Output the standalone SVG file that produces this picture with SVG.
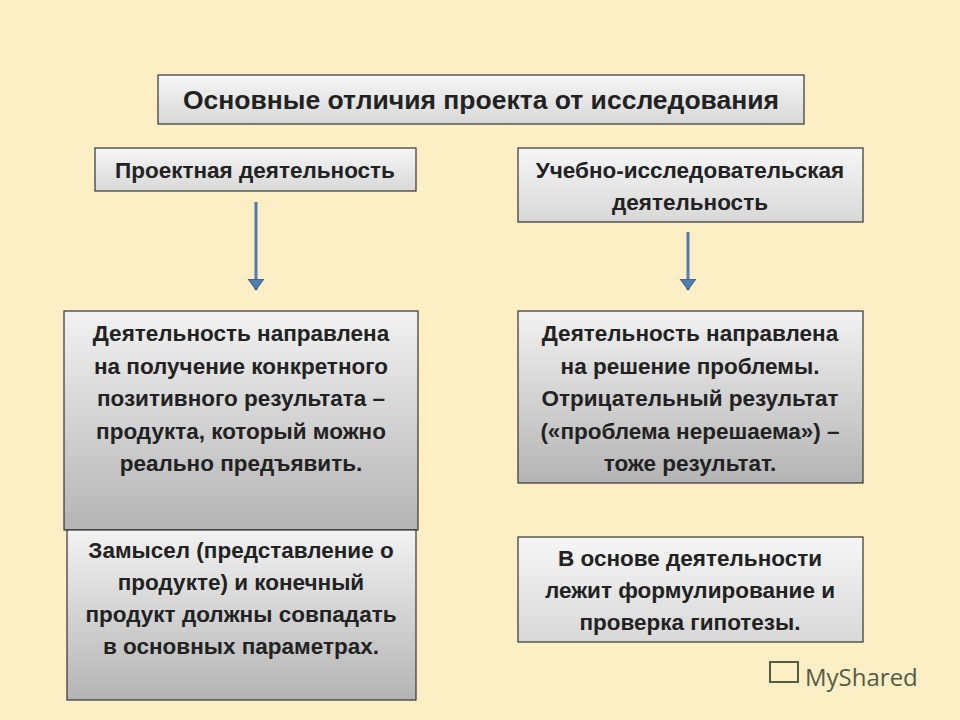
<svg xmlns="http://www.w3.org/2000/svg" width="960" height="720" viewBox="0 0 960 720">
<defs>
<linearGradient id="g" x1="0" y1="0" x2="0" y2="1"><stop offset="0" stop-color="#f2f2f2"/><stop offset="1" stop-color="#b4b4b4"/></linearGradient>
<linearGradient id="g2" x1="0" y1="0" x2="0" y2="1"><stop offset="0" stop-color="#f6f6f6"/><stop offset="1" stop-color="#d8d8d8"/></linearGradient>
<marker id="ah" markerWidth="18" markerHeight="18" refX="11" refY="8" orient="auto" markerUnits="userSpaceOnUse"><path d="M0,0 L11,8 L0,16 Z" fill="#4f7bb0" stroke="#2f5070" stroke-width="0.8"/></marker>
<style>
.b{stroke:#333;stroke-width:1.2}
.t{font-family:"Liberation Sans",Arial,sans-serif;font-weight:bold;font-size:22.5px;fill:#222;text-anchor:middle}
</style>
</defs>
<rect width="960" height="720" fill="#fcefc6"/>
<g id="title"><rect class="b" x="158" y="75" width="646" height="49" fill="url(#g2)"/><text class="t" x="481" y="109" style="font-size:26.5px">Основные отличия проекта от исследования</text></g>
<g id="h1"><rect class="b" x="95" y="148" width="321" height="43" fill="url(#g2)"/><text class="t" x="255" y="178">Проектная деятельность</text></g>
<g id="h2"><rect class="b" x="518" y="148" width="345" height="74" fill="url(#g2)"/><text class="t" x="690" y="178">Учебно-исследовательская</text><text class="t" x="690" y="210">деятельность</text></g>
<g id="l1"><rect class="b" x="64" y="311" width="354" height="219" fill="url(#g)"/>
<text class="t" x="241" y="341">Деятельность направлена</text><text class="t" x="241" y="374">на получение конкретного</text><text class="t" x="241" y="406">позитивного результата –</text><text class="t" x="241" y="439">продукта, который можно</text><text class="t" x="241" y="471">реально  предъявить.</text></g>
<g id="l2"><rect class="b" x="67" y="530" width="349" height="170" fill="url(#g)"/>
<text class="t" x="241" y="558">Замысел (представление о</text><text class="t" x="241" y="590">продукте) и конечный</text><text class="t" x="241" y="622">продукт должны совпадать</text><text class="t" x="241" y="654">в основных параметрах.</text></g>
<g id="r1"><rect class="b" x="518" y="311" width="345" height="172" fill="url(#g)"/>
<text class="t" x="690" y="341">Деятельность направлена</text><text class="t" x="690" y="374">на решение проблемы.</text><text class="t" x="690" y="406">Отрицательный результат</text><text class="t" x="690" y="439">(«проблема нерешаема») –</text><text class="t" x="690" y="471">тоже результат.</text></g>
<g id="r2"><rect class="b" x="518" y="537" width="345" height="105" fill="url(#g2)"/>
<text class="t" x="690" y="566">В основе деятельности</text><text class="t" x="690" y="598">лежит формулирование и</text><text class="t" x="690" y="630">проверка гипотезы.</text></g>
<g id="connectors" stroke="#4f7bb0" stroke-width="3" fill="none">
<line x1="256" y1="202" x2="256" y2="290" marker-end="url(#ah)"/>
<line x1="688" y1="232" x2="688" y2="290" marker-end="url(#ah)"/>
</g>
<g id="watermark"><rect x="770" y="662" width="28" height="20" fill="none" stroke="#555c45" stroke-width="2"/><text x="805" y="686" style="font-family:'Open Sans',sans-serif;font-size:24px;fill:#555c45">MyShared</text></g>
</svg>
